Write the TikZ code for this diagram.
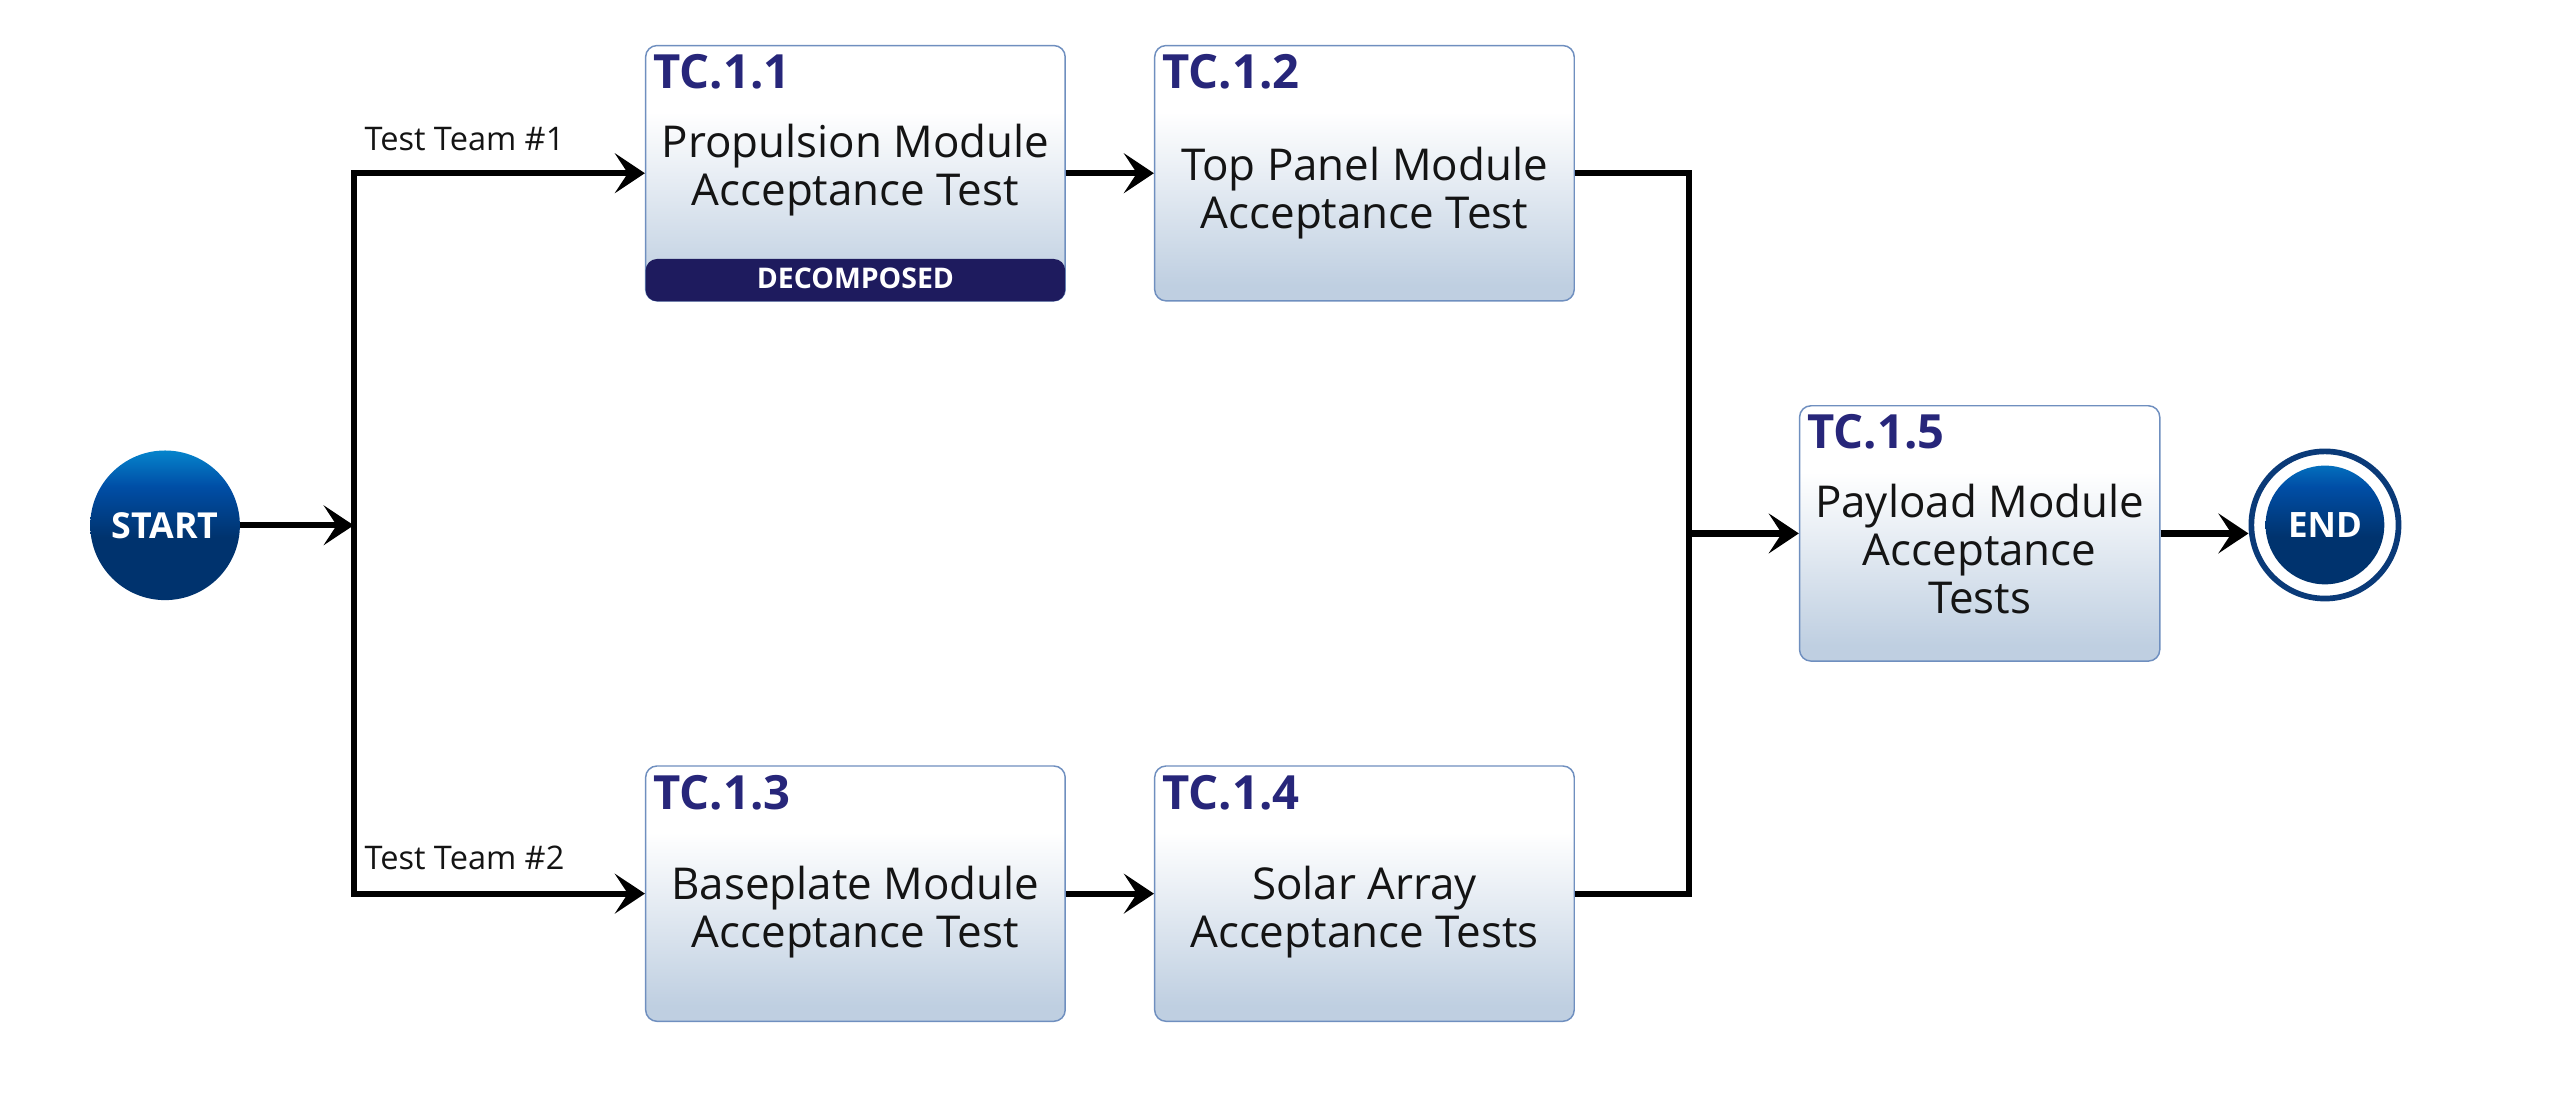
\documentclass[tikz,border=0pt]{standalone}
\usepackage{fontspec}
\setmainfont{Open Sans}
\usetikzlibrary{arrows.meta,calc}
\definecolor{tcnavy}{HTML}{27267A}
\definecolor{decobar}{HTML}{1E1B5E}
\definecolor{boxline}{HTML}{6F8FBF}
\definecolor{boxbot}{HTML}{BFCFE1}
\definecolor{ctop}{HTML}{0584CC}
\definecolor{cmid}{HTML}{004EA6}
\definecolor{cbot}{HTML}{00336E}
\definecolor{endring}{HTML}{0A3A78}
\pgfdeclareverticalshading{boxshade}{100bp}{color(0bp)=(boxbot); color(28bp)=(boxbot); color(62bp)=(white); color(100bp)=(white)}
\pgfdeclareverticalshading{circshade}{100bp}{color(0bp)=(cbot); color(46bp)=(cbot); color(63bp)=(cmid); color(75bp)=(ctop); color(100bp)=(ctop)}
\begin{document}
\begin{tikzpicture}[x=1pt,y=-1pt,
  tbox/.style={draw=boxline, line width=0.9pt, rounded corners=7pt, shading=boxshade,
    minimum width=258pt, minimum height=157pt, inner sep=0pt},
  flow/.style={line width=3.8pt, black},
  arr/.style={flow, -{Stealth[length=18.5pt,width=24.5pt,inset=8pt]}},
  tclabel/.style={font=\fontsize{29}{32}\selectfont\bfseries, text=tcnavy, anchor=base west, inner sep=0pt},
  boxtext/.style={font=\fontsize{27}{29.5}\selectfont, align=center, inner sep=0pt, text=black!92},
  teamlabel/.style={font=\fontsize{20}{22}\selectfont, anchor=base west, inner sep=0pt, text=black!92},
  decostyle/.style={fill=decobar, rounded corners=7pt, minimum width=258pt, minimum height=26pt,
    inner sep=0pt, text depth=3pt, text=white, font=\fontsize{17.5}{19}\selectfont\bfseries},
  startstyle/.style={circle, minimum size=92pt, inner sep=0pt, shading=circshade,
    text=white, font=\fontsize{22}{24}\selectfont\bfseries},
  endstyle/.style={circle, minimum size=90.5pt, inner sep=0pt, draw=endring, line width=3.5pt, fill=white,
    text=white, font=\fontsize{21.5}{24}\selectfont\bfseries,
    path picture={\shade[shading=circshade] (path picture bounding box.center) circle[radius=36.5pt];}}
]
\useasboundingbox (0,0) rectangle (1568,672);

% boxes
\node[tbox] (b1) at (526,106.5) {};
\node[tbox] (b2) at (839,106.5) {};
\node[tbox] (b3) at (526,549.5) {};
\node[tbox] (b4) at (839,549.5) {};
\node[tbox, minimum width=221.5pt] (b5) at (1217.3,328) {};

\node[decostyle, anchor=south] (dec) at (b1.south) {DECOMPOSED};

\node[tclabel] (l1) at ($(b1.north west)+(5,27)$) {TC.1.1};
\node[tclabel] (l2) at ($(b2.north west)+(5,27)$) {TC.1.2};
\node[tclabel] (l3) at ($(b3.north west)+(5,27)$) {TC.1.3};
\node[tclabel] (l4) at ($(b4.north west)+(5,27)$) {TC.1.4};
\node[tclabel] (l5) at ($(b5.north west)+(5,27)$) {TC.1.5};

\node[boxtext] (t1) at (526,104.7) {Propulsion Module\\Acceptance Test};
\node[boxtext] (t2) at (839,118.5) {Top Panel Module\\Acceptance Test};
\node[boxtext] (t3) at (526,561) {Baseplate Module\\Acceptance Test};
\node[boxtext] (t4) at (839,561) {Solar Array\\Acceptance Tests};
\node[boxtext] (t5) at (1217.3,337.5) {Payload Module\\Acceptance\\Tests};

% start / end
\node[startstyle] (startn) at (101.5,323) {START};
\node[endstyle] (endn) at (1429.6,322.8) {END};

% labels
\node[teamlabel] (tt1) at (224,92.4) {Test Team \#1};
\node[teamlabel] (tt2) at (224,534.5) {Test Team \#2};

% connectors
\coordinate (jm) at (217.5,323);
\coordinate (jr) at (1038.5,328);
\draw[arr] (startn.east) -- (jm);
\draw[arr] (jm) |- (b1.west);
\draw[arr] (jm) |- (b3.west);
\draw[arr] (b1.east) -- (b2.west);
\draw[arr] (b3.east) -- (b4.west);
\draw[flow] (b2.east) -| (jr);
\draw[flow] (b4.east) -| (jr);
\draw[arr] (jr) -- (b5.west);
\draw[arr] (b5.east) -- (b5.east -| endn.west);
\end{tikzpicture}
\end{document}
